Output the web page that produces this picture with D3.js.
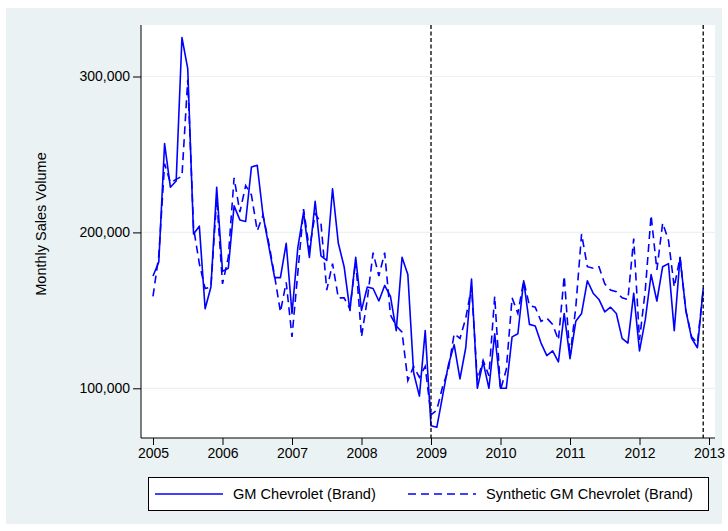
<!DOCTYPE html>
<html><head><meta charset="utf-8">
<script src="https://cdn.jsdelivr.net/npm/d3@7/dist/d3.min.js"></script>
<style>
html,body{margin:0;padding:0;background:#fff;}
svg{display:block;font-family:"Liberation Sans",Arial,Helvetica,sans-serif;}
</style></head>
<body>
<svg id="chart" width="728" height="531"></svg>
<script>
// Monthly series, Jan 2005 .. Dec 2012 (thousands of units)
const startYear = 2005;
const brand = [
 172,181,257,229,233,325,305,199,204,151,165,229,
 175,177,217,208,207,242,243,211,191,171,171,193,
 148,190,213,184,220,185,182,228,193,178,150,184,
 150,165,164,156,166,159,137,184,173,110,95,137,
 76,75,95,115,128,106,126,170,100,117,100,135,
 100,100,133,135,169,141,140,129,121,124,117,148,
 119,143,148,169,161,157,149,152,148,132,129,161,
 124,144,173,156,178,180,137,184,150,132,126,164
];
const synthetic = [
 159,185,244,232,234,236,298,203,180,164,165,222,
 167,184,235,213,230,224,201,211,193,172,149,168,
 133,174,215,189,212,206,163,180,158,158,151,182,
 133,157,187,172,187,147,140,136,105,114,107,114,
 83,86,101,112,135,132,145,165,105,118,108,159,
 99,112,158,148,169,153,152,143,145,141,131,172,
 120,152,199,178,177,178,167,163,162,158,157,196,
 131,163,211,176,206,195,165,184,150,133,129,163
];
const xTicks = [2005,2006,2007,2008,2009,2010,2011,2012,2013];
const yTicks = [100000,200000,300000];
const eventLines = [2009, 2012 + 11/12];
const seriesNames = ["GM Chevrolet (Brand)", "Synthetic GM Chevrolet (Brand)"];

const svg = d3.select("#chart");
const bg = "#eaf2f3";
const blue = "#0000ff";

svg.append("rect").attr("x",6).attr("y",8).attr("width",716).attr("height",516).attr("fill",bg);

const plot = {left:141, right:715, top:25, bottom:438};
svg.append("rect").attr("x",plot.left).attr("y",plot.top)
  .attr("width",plot.right-plot.left).attr("height",plot.bottom-plot.top).attr("fill","#fff");

const x = d3.scaleLinear().domain([2005,2013]).range([153,709]);
const y = d3.scaleLinear().domain([100000,300000]).range([388.3,76.5]);

// gridlines
svg.append("g").selectAll("line").data(yTicks).join("line")
  .attr("x1",plot.left).attr("x2",plot.right)
  .attr("y1",d=>y(d)).attr("y2",d=>y(d))
  .attr("stroke",bg).attr("stroke-width",1.2);

// axes
const yAxis = d3.axisLeft(y).tickValues(yTicks).tickSize(8).tickPadding(3)
  .tickFormat(d3.format(","));
const gy = svg.append("g").attr("transform",`translate(${plot.left},0)`).call(yAxis);
gy.select(".domain").remove();
gy.append("line").attr("x1",0).attr("x2",0).attr("y1",plot.top).attr("y2",plot.bottom)
  .attr("stroke","#000").attr("stroke-width",1);

const xAxis = d3.axisBottom(x).tickValues(xTicks).tickSize(7).tickPadding(3)
  .tickFormat(d3.format("d"));
const gx = svg.append("g").attr("transform",`translate(0,${plot.bottom})`).call(xAxis);
gx.select(".domain").remove();
gx.append("line").attr("x1",plot.left).attr("x2",plot.right).attr("y1",0).attr("y2",0)
  .attr("stroke","#000").attr("stroke-width",1);

[gx,gy].forEach(g=>{
  g.selectAll(".tick line").attr("stroke","#000");
  g.selectAll(".tick text").attr("font-size",14).attr("fill","#000")
   .attr("font-family","'Liberation Sans',Arial,sans-serif");
});

// y title
svg.append("text").attr("transform","translate(46,224) rotate(-90)")
  .attr("text-anchor","middle").attr("font-size",14.5).attr("fill","#000")
  .text("Monthly Sales Volume");

// series
const line = d3.line().x((d,i)=>x(startYear + i/12)).y(d=>y(d*1000));
svg.append("path").datum(brand).attr("d",line).attr("fill","none")
  .attr("stroke",blue).attr("stroke-width",1.6).attr("stroke-linejoin","round");
svg.append("path").datum(synthetic).attr("d",line).attr("fill","none")
  .attr("stroke",blue).attr("stroke-width",1.6).attr("stroke-dasharray","8,5");

// event lines
svg.append("g").selectAll("line").data(eventLines).join("line")
  .attr("x1",d=>x(d)).attr("x2",d=>x(d)).attr("y1",plot.top).attr("y2",plot.bottom)
  .attr("stroke","#000").attr("stroke-width",1.3).attr("stroke-dasharray","4,2.5");

// legend
const lg = svg.append("g");
lg.append("rect").attr("x",148.5).attr("y",477.5).attr("width",560).attr("height",33)
  .attr("fill","#fff").attr("stroke","#000").attr("stroke-width",1);
const items = [
  {name:seriesNames[0], dash:null, x1:155, x2:223, tx:233},
  {name:seriesNames[1], dash:"8,5", x1:408, x2:476, tx:486}
];
items.forEach(it=>{
  const l = lg.append("line").attr("x1",it.x1).attr("x2",it.x2).attr("y1",494).attr("y2",494)
    .attr("stroke",blue).attr("stroke-width",1.6);
  if(it.dash) l.attr("stroke-dasharray",it.dash);
  lg.append("text").attr("x",it.tx).attr("y",499).attr("font-size",14.6).attr("fill","#000").text(it.name);
});
</script>
</body></html>
